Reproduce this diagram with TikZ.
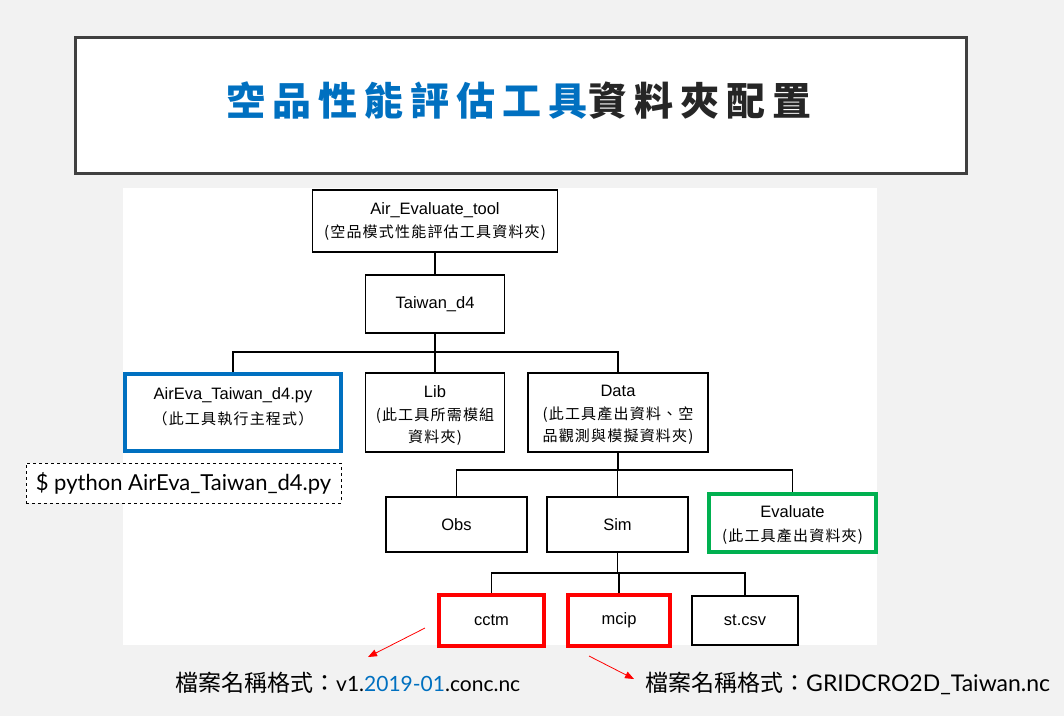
\documentclass[tikz,border=0pt]{standalone}
\usepackage{fontspec}
\usetikzlibrary{arrows.meta}
\setmainfont{Liberation Sans}
\newfontfamily\cjk{Noto Sans CJK TC}
\newfontfamily\cjkbox[LetterSpace=8]{Noto Sans CJK TC}
\newfontfamily\gill{Lato}
\definecolor{bg}{HTML}{F2F2F2}
\definecolor{titleblue}{HTML}{0070C0}
\definecolor{titledark}{HTML}{262626}
\definecolor{frame}{HTML}{404040}
\definecolor{okgreen}{HTML}{00B050}
\definecolor{alarm}{HTML}{FF0000}
\tikzset{
  box/.style={draw=black, line width=1.6pt, fill=white, inner sep=0pt, align=center,
    font=\fontsize{16.5}{22}\selectfont},
  boxtext/.style={inner sep=0pt, align=center, font=\fontsize{16.5}{22}\selectfont},
  wire/.style={line width=1.6pt, draw=black},
  redarrow/.style={draw=alarm, line width=0.8pt, -{Triangle[length=9pt,width=7pt]}},
}
\newcommand{\cj}[1]{{\cjkbox\fontsize{15}{22}\selectfont #1}}
\begin{document}
\begin{tikzpicture}[x=1pt,y=-1pt]
\useasboundingbox (0,0) rectangle (1064,716);
\fill[bg] (0,0) rectangle (1064,716);
% title
\node[draw=frame, line width=3pt, fill=white, minimum width=891pt, minimum height=136pt, inner sep=0pt] (titlebox) at (520.5,105) {};
\node[font=\cjk\bfseries\fontsize{39}{44}\selectfont] (title) at (519,101)
  {\addfontfeature{LetterSpace=18}\textcolor{titleblue}{空品性能評估工具}\textcolor{titledark}{資料夾配置}};
% white panel
\fill[white] (123,188) rectangle (877,645);
% nodes
\node[box, minimum width=245pt, minimum height=62pt] (air) at (435,221) {Air\_Evaluate\_tool\\[1pt]\cj{(空品模式性能評估工具資料夾)}};
\node[box, minimum width=139pt, minimum height=58pt] (tw) at (435,304) {Taiwan\_d4};
\node[box, draw=titleblue, line width=4pt, minimum width=216pt, minimum height=77pt] (py) at (233,412.5) {};
\node[boxtext] (pytext) at (233,407) {AirEva\_Taiwan\_d4.py\\[3pt]\cj{（此工具執行主程式）}};
\node[box, minimum width=139pt, minimum height=79pt] (lib) at (435,412.5) {};
\node[boxtext] (libtext) at (435,415) {Lib\\[1pt]\cj{(此工具所需模組}\\\cj{資料夾)}};
\node[box, minimum width=180pt, minimum height=79pt] (data) at (618,412.5) {};
\node[boxtext] (datatext) at (618,415) {Data\\[1pt]\cj{(此工具產出資料、空}\\\cj{品觀測與模擬資料夾)}};
\node[box, minimum width=141pt, minimum height=55pt] (obs) at (456.5,524.5) {Obs};
\node[box, minimum width=141pt, minimum height=55pt] (sim) at (617.5,524.5) {Sim};
\node[box, draw=okgreen, line width=3.5pt, minimum width=167pt, minimum height=58pt] (eval) at (792.5,523) {};
\node[boxtext] (evaltext) at (792.5,525) {Evaluate\\[2pt]\cj{(此工具產出資料夾)}};
\node[box, draw=alarm, line width=3.5pt, minimum width=105pt, minimum height=51pt] (cctm) at (491.5,620.5) {cctm};
\node[box, draw=alarm, line width=3.5pt, minimum width=102pt, minimum height=51pt] (mcip) at (619,620.5) {mcip};
\node[box, minimum width=106pt, minimum height=49pt] (st) at (745,620.5) {st.csv};
% command box
\node[draw=black, dashed, line width=0.8pt, fill=white, minimum width=315pt, minimum height=40pt, inner sep=0pt,
  font=\gill\fontsize{22}{26}\selectfont] (cmd) at (183.5,483) {\$ python AirEva\_Taiwan\_d4.py};
% connectors
\draw[wire] (air.south) -- (tw.north);
\coordinate (j1) at (435,352);
\draw[wire] (tw.south) -- (j1);
\draw[wire] (py.north) |- (j1) -| (data.north);
\draw[wire] (lib.north) -- (lib.north |- j1);
\coordinate (j2) at (618,470);
\draw[wire] (data.south) -- (j2);
\draw[wire] (obs.north) |- (j2) -| (eval.north);
\draw[wire] (sim.north) -- (sim.north |- j2);
\coordinate (j3) at (617.5,573);
\draw[wire] (sim.south) -- (j3);
\draw[wire] (cctm.north) |- (j3) -| (st.north);
\draw[wire] (mcip.north) -- (mcip.north |- j3);
% format notes
\node[anchor=west, inner sep=0pt, font=\fontsize{23}{26}\selectfont] (fmt1) at (175,683)
  {{\cjk 檔案名稱格式：}{\gill\fontsize{21}{26}\selectfont v1.\textcolor{titleblue}{2019-01}.conc.nc}};
\node[anchor=west, inner sep=0pt, font=\fontsize{23}{26}\selectfont] (fmt2) at (645,683)
  {{\cjk 檔案名稱格式：}{\gill GRIDCRO2D\_Taiwan.nc}};
\coordinate (a1s) at (425,628);
\coordinate (a1e) at (368,657);
\coordinate (a2s) at (589,656);
\coordinate (a2e) at (634,679);
\draw[redarrow] (a1s) -- (a1e);
\draw[redarrow] (a2s) -- (a2e);
\end{tikzpicture}
\end{document}
